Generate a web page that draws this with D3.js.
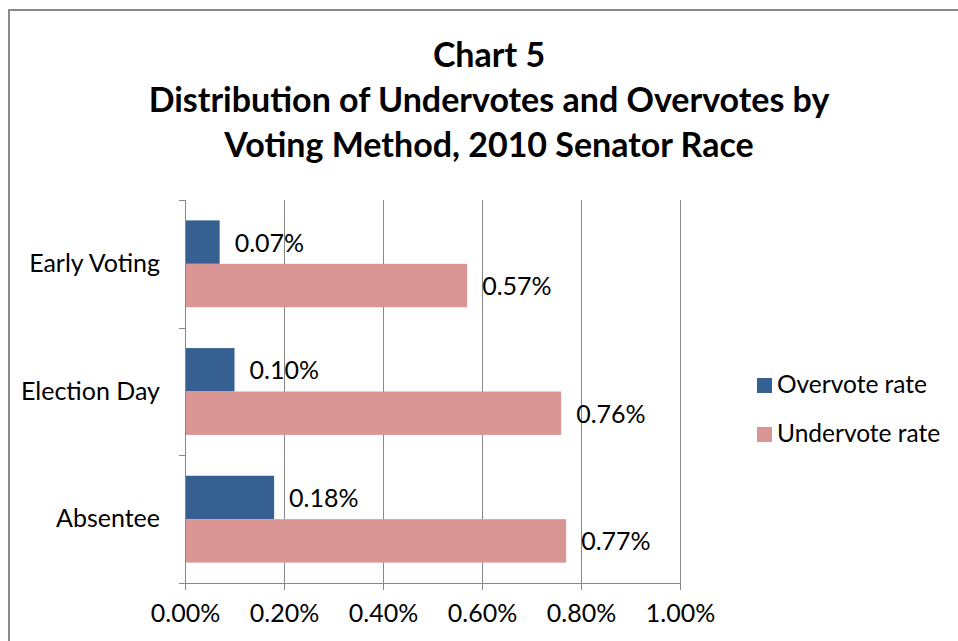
<!DOCTYPE html>
<html>
<head>
<meta charset="utf-8">
<script src="https://cdn.jsdelivr.net/npm/d3@7"></script>
<style>
  html, body { margin: 0; padding: 0; background: #fff; }
  svg { display: block; font-family: Lato, "Noto Sans", sans-serif; }
</style>
</head>
<body>
<svg id="chart" width="958" height="641"></svg>
<script>
// Voting methods, top to bottom
const categories = ["Early Voting", "Election Day", "Absentee"];
// Series names (legend order)
const seriesNames = ["Overvote rate", "Undervote rate"];
// Rates in percent
const overvoteRate = [0.07, 0.10, 0.18];
const undervoteRate = [0.57, 0.76, 0.77];
// Axis ticks in percent
const xTicks = [0, 0.2, 0.4, 0.6, 0.8, 1.0];
const titleLines = ["Chart 5", "Distribution of Undervotes and Overvotes by", "Voting Method, 2010 Senator Race"];

const colors = { "Overvote rate": "#376092", "Undervote rate": "#d99694" };
const axisColor = "#878787";

const svg = d3.select("#chart");

// Outer chart frame (runs off the right and bottom edges)
svg.append("rect")
  .attr("x", 9).attr("y", 10)
  .attr("width", 1000).attr("height", 700)
  .attr("fill", "none").attr("stroke", "#8a8a8a").attr("stroke-width", 2);

// Title
const title = svg.append("text")
  .attr("text-anchor", "middle")
  .attr("font-weight", "bold")
  .attr("font-size", 34)
  .attr("fill", "#000");
titleLines.forEach((t, i) => {
  title.append("tspan").attr("x", 489).attr("y", 67 + i * 45).text(t);
});

const plot = { left: 185, right: 680, top: 200, bottom: 583 };

const x = d3.scaleLinear().domain([0, 1.0]).range([plot.left, plot.right]);
const y0 = d3.scaleBand().domain(categories).range([plot.top, plot.bottom]).padding(0);
const y1 = d3.scaleBand().domain(seriesNames).range([0, y0.bandwidth()]).paddingInner(0).paddingOuter(0.47);

// Vertical gridlines
svg.append("g").selectAll("line")
  .data(xTicks.filter(d => d > 0))
  .join("line")
  .attr("x1", d => Math.round(x(d)) + 0.5).attr("x2", d => Math.round(x(d)) + 0.5)
  .attr("y1", plot.top).attr("y2", plot.bottom)
  .attr("stroke", axisColor).attr("stroke-width", 1);

// Bars
const rows = categories.map((c, i) => ({
  category: c,
  values: [
    { series: "Overvote rate", value: overvoteRate[i] },
    { series: "Undervote rate", value: undervoteRate[i] }
  ]
}));

const groups = svg.append("g").selectAll("g")
  .data(rows)
  .join("g")
  .attr("transform", d => `translate(0,${y0(d.category)})`);

groups.selectAll("rect")
  .data(d => d.values)
  .join("rect")
  .attr("x", x(0))
  .attr("y", d => y1(d.series))
  .attr("width", d => x(d.value) - x(0))
  .attr("height", y1.bandwidth())
  .attr("fill", d => colors[d.series]);

// Value labels
groups.selectAll("text")
  .data(d => d.values)
  .join("text")
  .attr("x", d => x(d.value) + 15)
  .attr("y", d => y1(d.series) + y1.bandwidth() / 2 + 9.5)
  .attr("font-size", 25)
  .attr("fill", "#000")
  .text(d => d.value.toFixed(2) + "%");

// Bottom axis
const xAxis = d3.axisBottom(x)
  .tickValues(xTicks)
  .tickSize(7)
  .tickPadding(14)
  .tickFormat(d => d.toFixed(2) + "%");
const gx = svg.append("g")
  .attr("transform", `translate(0,${plot.bottom})`)
  .call(xAxis);
gx.select(".domain").attr("stroke", axisColor).attr("d", `M${plot.left - 6},0.5H${plot.right}`);
gx.selectAll(".tick line").attr("stroke", axisColor);
gx.selectAll(".tick text")
  .attr("font-family", "Lato, 'Noto Sans', sans-serif")
  .attr("font-size", 25).attr("fill", "#000");

// Left axis: line with ticks at category boundaries
const gy = svg.append("g");
gy.append("line")
  .attr("x1", plot.left + 0.5).attr("x2", plot.left + 0.5)
  .attr("y1", plot.top).attr("y2", plot.bottom + 7)
  .attr("stroke", axisColor);
const boundaries = categories.map(c => y0(c)).concat([plot.bottom]);
gy.selectAll("line.tk")
  .data(boundaries)
  .join("line")
  .attr("class", "tk")
  .attr("x1", plot.left - 6).attr("x2", plot.left)
  .attr("y1", d => Math.round(d) + 0.5).attr("y2", d => Math.round(d) + 0.5)
  .attr("stroke", axisColor);
gy.selectAll("text")
  .data(categories)
  .join("text")
  .attr("x", 160)
  .attr("y", d => y0(d) + y0.bandwidth() / 2 + 8)
  .attr("text-anchor", "end")
  .attr("font-size", 25)
  .attr("fill", "#000")
  .text(d => d);

// Legend
const legend = svg.append("g").selectAll("g")
  .data(seriesNames)
  .join("g")
  .attr("transform", (d, i) => `translate(757,${378 + i * 49})`);
legend.append("rect")
  .attr("width", 15).attr("height", 15)
  .attr("fill", d => colors[d]);
legend.append("text")
  .attr("x", 20).attr("y", 15)
  .attr("font-size", 24.5)
  .attr("fill", "#000")
  .text(d => d);
</script>
</body>
</html>
